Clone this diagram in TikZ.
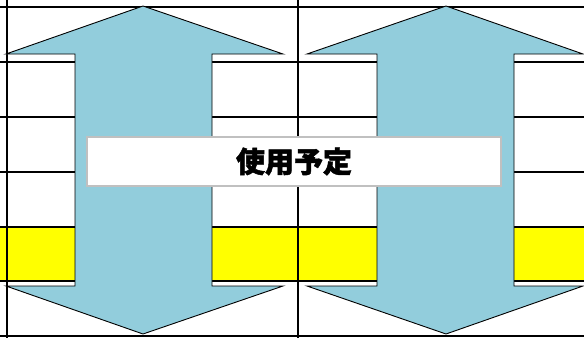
\documentclass[tikz,border=0pt]{standalone}
\usepackage{fontspec}
\newfontfamily\cjk[BoldFeatures={FakeBold=1.6}]{Noto Sans CJK JP}
\definecolor{arrowblue}{RGB}{146,205,220}
\definecolor{rowyellow}{RGB}{255,255,0}
\definecolor{boxgray}{RGB}{192,192,192}

\begin{document}
\begin{tikzpicture}[x=1pt, y=-1pt,
  gridline/.style={line width=1.5pt, black},
  arrowshape/.style={fill=arrowblue, draw=black, line width=0.9pt, line join=miter},
  labelbox/.style={fill=white, draw=boxgray, line width=1.2pt}]
          \useasboundingbox (0,0) rectangle (584,338);
          \fill [rowyellow] (0,227) rectangle (584,281);
          \foreach \y in {7, 62, 117, 172, 227, 281, 336}
            \draw [gridline] plot coordinates {(0,\y) (584,\y)};
          \draw [gridline] plot coordinates {(7,0) (7,338)};
          \draw [gridline] plot coordinates {(298,0) (298,338)};
          \filldraw [arrowshape] plot coordinates {(143,6) (6,54) (75,54) (75,286) (6,286) (143,334) (283,286) (212,286) (212,54) (283,54) (143,6)};
          \filldraw [arrowshape] plot coordinates {(446,6) (307,54) (377,54) (377,286) (307,286) (446,334) (583,286) (514,286) (514,54) (583,54) (446,6)};
          \draw [labelbox] (87,137) rectangle (501,186);
          \node (plan) at (294,161.5) {\cjk\bfseries\fontsize{29}{33}\selectfont 使用予定};
        \end{tikzpicture}
\end{document}
